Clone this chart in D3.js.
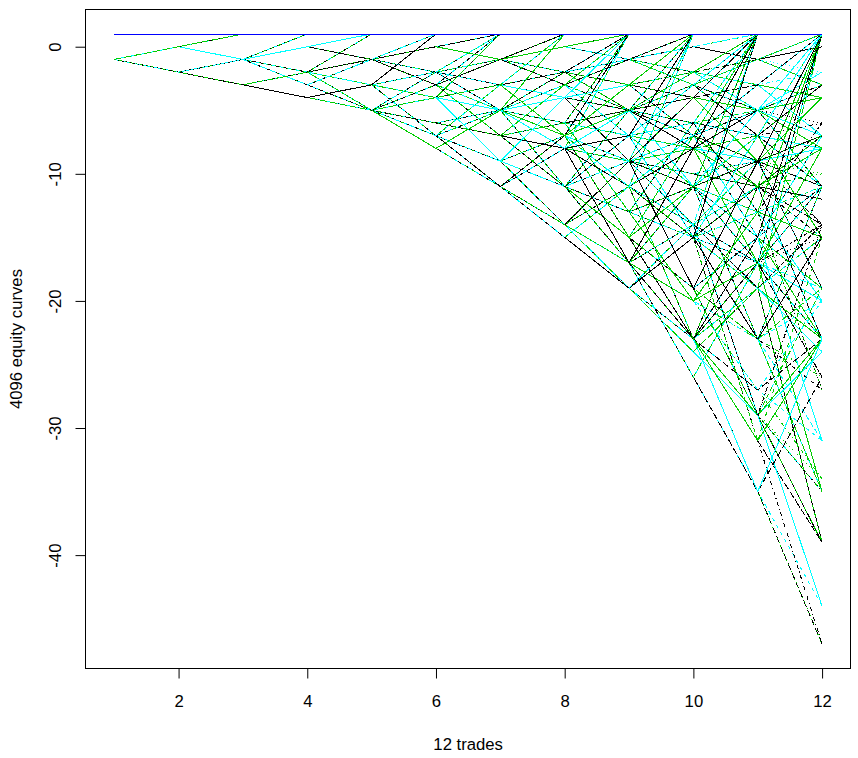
<!DOCTYPE html>
<html>
<head>
<meta charset="utf-8">
<script src="https://cdn.jsdelivr.net/npm/d3@7"></script>
<style>
  html, body { margin: 0; padding: 0; background: #ffffff; }
  svg { display: block; }
  text { font-family: "Liberation Sans", Arial, sans-serif; fill: #000; }
</style>
</head>
<body>
<svg id="chart" width="858" height="758"></svg>
<script>
// ---------------- data ----------------
// x positions: the 12 trades
const trades = [1, 2, 3, 4, 5, 6, 7, 8, 9, 10, 11, 12];
// every win/loss sequence of 12 trades: 2^12 = 4096 curves
const nCurves = 4096;
// betting rule: start with 1 unit, keep the bet after a loss,
// after a win bet what is needed to reach the +1 target, stop once the target is hit
const startBet = 1;
const target = 1;
// colour / line-type cycles of the curves (R matplot defaults)
const seriesColors = ["#000000", "#FF0000", "#00CD00", "#0000FF", "#00FFFF", "#FF00FF"];
const seriesDash = ["none", "4,4", "1,3", "1,3,4,3", "7,3"];
// axes
const xTicks = [2, 4, 6, 8, 10, 12];
const yTicks = [-40, -30, -20, -10, 0];
const xLabel = "12 trades";
const yLabel = "4096 equity curves";

// outcome of trade t (0-based) in sequence k: bit t of k (1 = win)
function equityCurve(k) {
  let e = 0, bet = startBet, done = false;
  const out = [];
  trades.forEach((t, i) => {
    if (!done) {
      const win = (Math.floor(k / Math.pow(2, i)) % 2) === 1;
      if (win) {
        e += bet;
        if (e >= target) done = true; else bet = target - e;
      } else {
        e -= bet;
      }
    }
    out.push({ x: t, y: e });
  });
  return out;
}
const curves = d3.range(nCurves).map(equityCurve);

// ---------------- layout ----------------
const svg = d3.select("#chart");
const plot = { left: 85.9, right: 850.4, top: 9.6, bottom: 668.5 };

const xExt = d3.extent(trades);
const xPad = (xExt[1] - xExt[0]) * 0.04;
const allY = curves.flat().map(d => d.y);
const yExt = d3.extent(allY);
const yPad = (yExt[1] - yExt[0]) * 0.04;

const x = d3.scaleLinear().domain([xExt[0] - xPad, xExt[1] + xPad]).range([plot.left, plot.right]);
const y = d3.scaleLinear().domain([yExt[0] - yPad, yExt[1] + yPad]).range([plot.bottom, plot.top]);

const line = d3.line().x(d => x(d.x)).y(d => y(d.y));

// curves, drawn in sequence order
svg.append("g")
  .attr("shape-rendering", "crispEdges")
  .selectAll("path")
  .data(curves)
  .join("path")
  .attr("d", line)
  .attr("fill", "none")
  .attr("stroke", (d, i) => seriesColors[i % seriesColors.length])
  .attr("stroke-width", 1)
  .attr("stroke-dasharray", (d, i) => seriesDash[i % seriesDash.length]);

// box
svg.append("rect")
  .attr("x", 85.5).attr("y", 9.5)
  .attr("width", 850.5 - 85.5).attr("height", 668.5 - 9.5)
  .attr("fill", "none").attr("stroke", "#000").attr("stroke-width", 1);

const fontSize = "16.7px";

// x axis
const gx = svg.append("g")
  .attr("transform", `translate(0,668.5)`)
  .call(d3.axisBottom(x).tickValues(xTicks).tickSize(10).tickSizeOuter(0).tickFormat(d3.format("d")));
gx.select(".domain").attr("d", `M${x(xTicks[0])},0H${x(xTicks[xTicks.length - 1])}`).attr("stroke", "#000");
gx.selectAll(".tick line").attr("stroke", "#000");
gx.selectAll(".tick text")
  .attr("y", 38.2).attr("dy", null)
  .style("font-size", fontSize)
  .style("font-family", '"Liberation Sans", Arial, sans-serif')
  .attr("fill", "#000");

// y axis
const gy = svg.append("g")
  .attr("transform", `translate(85.5,0)`)
  .call(d3.axisLeft(y).tickValues(yTicks).tickSize(10).tickSizeOuter(0).tickFormat(d => String(d)));
gy.select(".domain").attr("d", `M0,${y(yTicks[0])}V${y(yTicks[yTicks.length - 1])}`).attr("stroke", "#000");
gy.selectAll(".tick line").attr("stroke", "#000");
gy.selectAll(".tick text")
  .attr("x", 0).attr("dy", null)
  .attr("y", -(85.5 - 61))
  .attr("transform", "rotate(-90)")
  .attr("text-anchor", "middle")
  .style("font-size", fontSize)
  .style("font-family", '"Liberation Sans", Arial, sans-serif')
  .attr("fill", "#000");

// axis titles
svg.append("text")
  .attr("x", (plot.left + plot.right) / 2)
  .attr("y", 750)
  .attr("text-anchor", "middle")
  .style("font-size", fontSize)
  .text(xLabel);

svg.append("text")
  .attr("transform", `translate(21.5,${(plot.top + plot.bottom) / 2}) rotate(-90)`)
  .attr("text-anchor", "middle")
  .style("font-size", fontSize)
  .text(yLabel);
</script>
</body>
</html>
